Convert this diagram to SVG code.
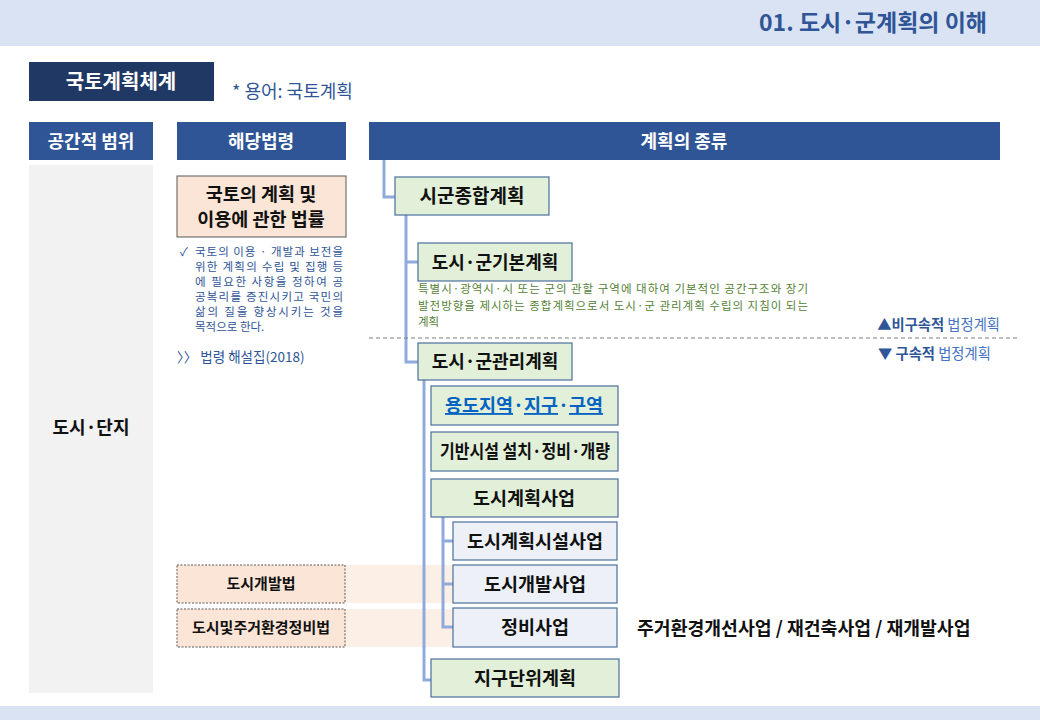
<svg xmlns="http://www.w3.org/2000/svg" width="1040" height="720" viewBox="0 0 1040 720">
<defs>
<style>
text{font-family:"Noto Sans CJK KR","Noto Sans",sans-serif;}
.hdr{fill:#2f5597;}
.hdrt{fill:#fff;font-size:18px;font-weight:bold;text-anchor:middle;}
.g{fill:#e2f0d9;stroke:#4a6f9c;stroke-width:1.2;}
.b{fill:#edf1f7;stroke:#4a6f9c;stroke-width:1.2;}
.bt{font-size:19px;font-weight:bold;text-anchor:middle;fill:#111;}
.st{font-size:18.5px;font-weight:bold;text-anchor:middle;fill:#111;}
.law{fill:#fbe5d6;stroke:#595959;stroke-width:1;stroke-dasharray:2 1.5;}
.lawt{font-size:15px;font-weight:bold;text-anchor:middle;fill:#111;}
.band{fill:#fcefe6;}
.desc{font-size:11.5px;fill:#2f5597;}
.gdesc{font-size:11.5px;fill:#548235;}
.conn{fill:none;stroke:#8faadc;stroke-width:3;}
</style>
</defs>
<rect x="0" y="0" width="1040" height="46" fill="#dae3f3"/>
<text x="987" y="31" text-anchor="end" font-size="23" font-weight="bold" fill="#2f5597">01. 도시·군계획의 이해</text>
<rect x="0" y="706" width="1040" height="14" fill="#dae3f3"/>

<g id="title">
<rect x="29" y="62" width="185" height="39" fill="#1f3864"/>
<text x="121" y="89" text-anchor="middle" font-size="20" font-weight="bold" fill="#fff">국토계획체계</text>
<text x="232" y="98" font-size="18" fill="#2f5597">* 용어: 국토계획</text>
</g>

<g id="headers">
<rect class="hdr" x="29" y="122" width="124" height="38"/>
<text class="hdrt" x="91" y="148">공간적 범위</text>
<rect class="hdr" x="177" y="122" width="169" height="38"/>
<text class="hdrt" x="261" y="148">해당법령</text>
<rect class="hdr" x="369" y="122" width="631" height="38"/>
<text class="hdrt" x="684" y="148">계획의 종류</text>
</g>

<g id="scope">
<rect x="29" y="165" width="124" height="528" fill="#f2f2f2"/>
<text x="91" y="434" text-anchor="middle" font-size="18" font-weight="bold" fill="#111">도시·단지</text>
</g>

<g id="bands">
<rect class="band" x="345" y="565" width="108" height="38"/>
<rect class="band" x="345" y="609" width="108" height="38"/>
</g>

<g id="law-main">
<rect x="177" y="176" width="169" height="61" fill="#fbe5d6" stroke="#595959" stroke-width="1"/>
<text x="261" y="201" text-anchor="middle" font-size="18.5" font-weight="bold" fill="#111">국토의 계획 및</text>
<text x="261" y="226" text-anchor="middle" font-size="18.5" font-weight="bold" fill="#111">이용에 관한 법률</text>
<text class="desc" x="180" y="256">✓</text>
<text class="desc" x="195" y="256" textLength="148" lengthAdjust="spacing">국토의 이용 · 개발과 보전을</text>
<text class="desc" x="195" y="271" textLength="148" lengthAdjust="spacing">위한 계획의 수립 및 집행 등</text>
<text class="desc" x="195" y="286" textLength="148" lengthAdjust="spacing">에 필요한 사항을 정하여 공</text>
<text class="desc" x="195" y="301" textLength="148" lengthAdjust="spacing">공복리를 증진시키고 국민의</text>
<text class="desc" x="195" y="316" textLength="148" lengthAdjust="spacing">삶의 질을 향상시키는 것을</text>
<text class="desc" x="195" y="331">목적으로 한다.</text>
<text x="177" y="362" font-size="13.5" fill="#2f5597">〉〉 법령 해설집(2018)</text>
</g>

<g id="law-dev">
<rect class="law" x="177" y="565" width="168" height="38"/>
<text class="lawt" x="261" y="589">도시개발법</text>
</g>
<g id="law-renew">
<rect class="law" x="177" y="609" width="168" height="38"/>
<text class="lawt" x="261" y="633">도시및주거환경정비법</text>
</g>

<g id="connectors">
<path class="conn" d="M384 160 V197 H395"/>
<path class="conn" d="M406 215 V362 H418 M406 262 H418"/>
<path class="conn" d="M424 380 V680 H431"/>
<path class="conn" d="M443 517 V627 H453 M443 541 H453 M443 584 H453"/>
</g>

<g id="divider">
<line x1="369" y1="338" x2="1018" y2="338" stroke="#7f7f7f" stroke-width="1" stroke-dasharray="4 3"/>
<text x="1000" y="330" text-anchor="end" font-size="14.3" fill="#4472c4"><tspan font-weight="bold" fill="#2f5597">▲비구속적</tspan> 법정계획</text>
<text x="878" y="359" font-size="14.3" fill="#4472c4"><tspan font-weight="bold" fill="#2f5597">▼ 구속적</tspan> 법정계획</text>
</g>

<g id="n-sigun">
<rect class="g" x="395" y="177" width="154" height="38"/>
<text class="bt" x="472" y="203">시군종합계획</text>
</g>
<g id="n-basic">
<rect class="g" x="418" y="243" width="154" height="38"/>
<text x="495" y="269" text-anchor="middle" font-size="18" font-weight="bold" fill="#111">도시·군기본계획</text>
<text class="gdesc" x="418" y="293" textLength="390" lengthAdjust="spacing">특별시·광역시·시 또는 군의 관할 구역에 대하여 기본적인 공간구조와 장기</text>
<text class="gdesc" x="418" y="310" textLength="390" lengthAdjust="spacing">발전방향을 제시하는 종합계획으로서 도시·군 관리계획 수립의 지침이 되는</text>
<text class="gdesc" x="418" y="326">계획</text>
</g>
<g id="n-manage">
<rect class="g" x="418" y="343" width="154" height="37"/>
<text x="495" y="368" text-anchor="middle" font-size="18" font-weight="bold" fill="#111">도시·군관리계획</text>
</g>
<g id="n-zone">
<rect class="g" x="431" y="386" width="187" height="39"/>
<text class="st" x="524" y="412" fill="#0563c1"><tspan fill="#0563c1" text-decoration="underline">용도지역</tspan><tspan fill="#0563c1">·</tspan><tspan fill="#0563c1" text-decoration="underline">지구</tspan><tspan fill="#0563c1">·</tspan><tspan fill="#0563c1" text-decoration="underline">구역</tspan></text>
</g>
<g id="n-infra">
<rect class="g" x="431" y="432" width="187" height="39"/>
<text class="st" x="525" y="458" textLength="170" lengthAdjust="spacingAndGlyphs">기반시설 설치·정비·개량</text>
</g>
<g id="n-project">
<rect class="g" x="431" y="479" width="187" height="38"/>
<text class="st" x="524" y="505">도시계획사업</text>
</g>
<g id="n-facility">
<rect class="b" x="453" y="522" width="164" height="38"/>
<text class="st" x="535" y="548">도시계획시설사업</text>
</g>
<g id="n-devproj">
<rect class="b" x="453" y="565" width="164" height="38"/>
<text class="st" x="535" y="591">도시개발사업</text>
</g>
<g id="n-renew">
<rect class="b" x="453" y="608" width="164" height="39"/>
<text class="st" x="535" y="634">정비사업</text>
<text x="637" y="635" font-size="18.3" font-weight="bold" fill="#111">주거환경개선사업 / 재건축사업 / 재개발사업</text>
</g>
<g id="n-district">
<rect class="g" x="431" y="659" width="188" height="38"/>
<text class="st" x="525" y="685">지구단위계획</text>
</g>
</svg>
